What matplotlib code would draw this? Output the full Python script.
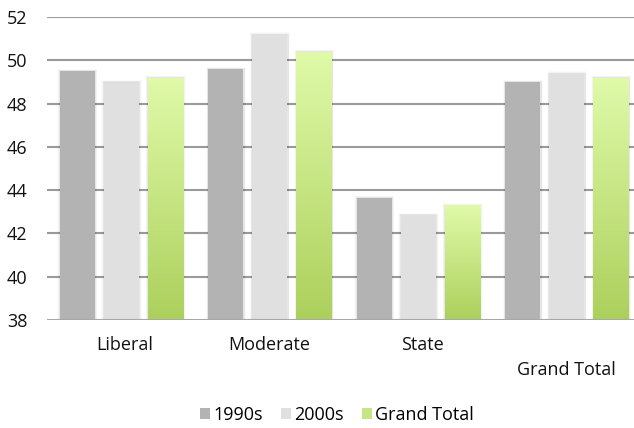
import numpy as np
import matplotlib
matplotlib.use("Agg")
import matplotlib.pyplot as plt
from matplotlib.patches import Rectangle, Patch
from matplotlib.colors import LinearSegmentedColormap

plt.rcParams['font.family'] = ['Open Sans', 'DejaVu Sans']

categories = ["Liberal", "Moderate", "State", "Grand Total"]
series_names = ["1990s", "2000s", "Grand Total"]
values_1990s = [49.5, 49.6, 43.65, 49.0]
values_2000s = [49.0, 51.2, 42.85, 49.4]
values_total = [49.2, 50.4, 43.3, 49.2]
y_ticks = [38, 40, 42, 44, 46, 48, 50, 52]

W, H = 634, 428
fig = plt.figure(figsize=(W / 100, H / 100), dpi=100)
ax = fig.add_axes([47 / W, 1 - 320 / H, 594 / W, 303 / H])

ymin = 38
grid_color = "#9a9a9a"
for t in y_ticks[1:]:
    ax.axhline(t, color=grid_color, lw=1.5, zorder=1)
ax.axhline(38, color="#a8a8a8", lw=1.5, zorder=5)

bar_w = 0.236
offsets = [-0.297, 0.0, 0.297]
colors = ["#b3b3b3", "#e0e0e0", None]
green_cmap = LinearSegmentedColormap.from_list("grn", ["#acd05c", "#e0faa9"])
grad = np.linspace(0, 1, 256).reshape(-1, 1)

x = np.arange(len(categories))
for si, vals in enumerate([values_1990s, values_2000s, values_total]):
    for ci, v in enumerate(vals):
        x0 = x[ci] + offsets[si] - bar_w / 2
        # soft drop shadow around each bar
        for k, a in enumerate([0.05, 0.03, 0.015]):
            d = 0.005 * (k + 1)
            ax.add_patch(Rectangle((x0 - d, ymin), bar_w + 2 * d + 0.004,
                                   v - ymin + 0.03 * (k + 1), facecolor="#000000",
                                   alpha=a, lw=0, zorder=2))
        if colors[si] is not None:
            ax.add_patch(Rectangle((x0, ymin), bar_w, v - ymin,
                                   facecolor=colors[si], lw=0, zorder=3))
        else:
            rect = Rectangle((x0, ymin), bar_w, v - ymin, facecolor="none",
                             lw=0, zorder=3)
            ax.add_patch(rect)
            im = ax.imshow(grad, cmap=green_cmap, aspect="auto",
                           extent=(x0, x0 + bar_w, ymin, v), origin="lower",
                           zorder=3)
            im.set_clip_path(rect)

ax.set_xlim(-0.5, len(categories) - 0.5)
ax.set_ylim(38, 52)

for s in ax.spines.values():
    s.set_visible(False)
ax.set_yticks(y_ticks)
ax.set_yticklabels([str(t) for t in y_ticks], fontsize=13, color="#111111")
ax.tick_params(axis="y", length=0, pad=14)
ax.set_xticks([])

label_y = [345, 345, 345, 370]
label_dx = [3, 0, 4, 0]
for ci, name in enumerate(categories):
    fig.text((47 + (ci + 0.5) * 148.5 + label_dx[ci]) / W,
             1 - label_y[ci] / H, name, ha="center", va="center",
             fontsize=13, color="#111111")

handles = [Patch(facecolor="#b3b3b3", lw=0), Patch(facecolor="#e0e0e0", lw=0),
           Patch(facecolor="#c6e584", lw=0)]
fig.legend(handles, series_names, loc="center", bbox_to_anchor=(337 / W, 1 - 415 / H),
           ncol=3, frameon=False, fontsize=13, handlelength=0.55, handleheight=0.55,
           handletextpad=0.2, columnspacing=1.0)

fig.savefig("out.png", dpi=100)
